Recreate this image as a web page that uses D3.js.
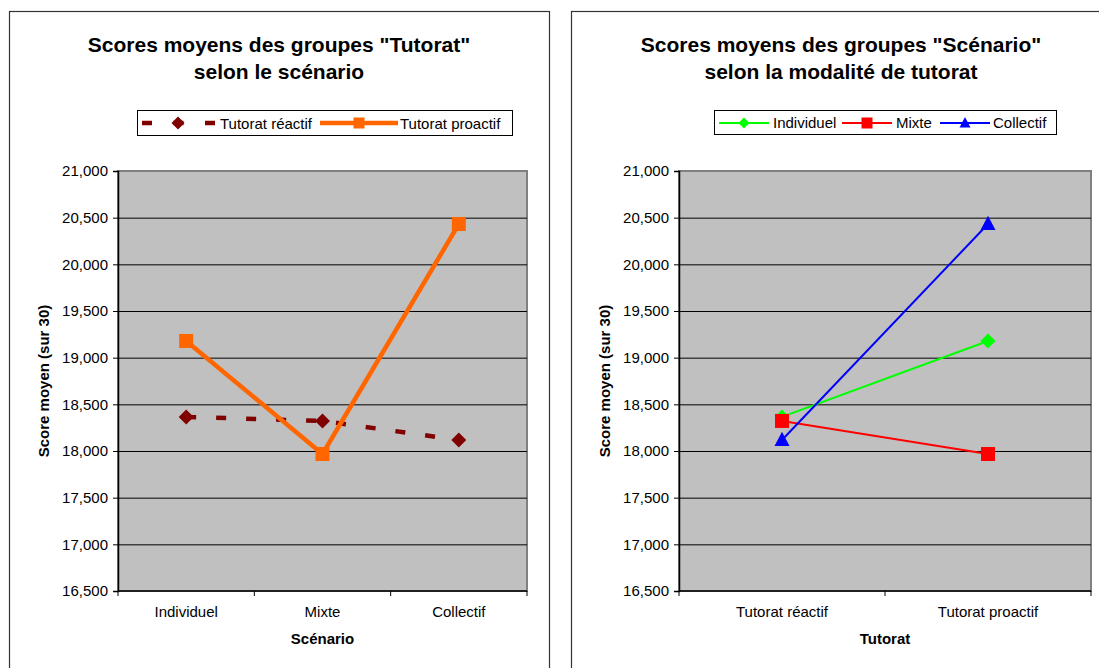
<!DOCTYPE html>
<html>
<head>
<meta charset="utf-8">
<script src="https://cdn.jsdelivr.net/npm/d3@7"></script>
<style>
  body { margin: 0; background: #fff; }
  svg { font-family: "Liberation Sans", Arial, sans-serif; }
</style>
</head>
<body>
<svg id="chart" width="1099" height="668"></svg>
<script>
// data
const scenarios = ["Individuel", "Mixte", "Collectif"];
const tutorats = ["Tutorat réactif", "Tutorat proactif"];
const reactif = [18365, 18322, 18118];
const proactif = [19179, 17968, 20432];
const yTicks = [16500, 17000, 17500, 18000, 18500, 19000, 19500, 20000, 20500, 21000];

const svg = d3.select("#chart");

function tickLabel(v) {
  // excel style "21,000" (decimal comma)
  return (v / 1000).toFixed(3).replace(".", ",");
}

// one panel (frame, title, axes, plot area)
function panel(opts) {
  const g = svg.append("g");

  g.append("rect")
    .attr("x", opts.frame[0] + 0.5).attr("y", opts.frame[1] + 0.5)
    .attr("width", opts.frame[2]).attr("height", opts.frame[3])
    .attr("fill", "#fff").attr("stroke", "#333").attr("stroke-width", 1.2);

  const t = g.append("text")
    .attr("text-anchor", "middle")
    .attr("font-size", 21).attr("font-weight", "bold").attr("fill", "#000");
  opts.title.forEach((line, i) => {
    t.append("tspan").attr("x", opts.titleX).attr("y", 52 + i * 27).text(line);
  });

  const x = d3.scalePoint().domain(opts.cats).range([opts.px0, opts.px1]).padding(0.5);
  const y = d3.scaleLinear().domain([16500, 21000]).range([591, 171]);

  g.append("rect")
    .attr("x", opts.px0).attr("y", 171)
    .attr("width", opts.px1 - opts.px0).attr("height", 420)
    .attr("fill", "#c0c0c0").attr("stroke", "#808080").attr("stroke-width", 2);

  g.append("g").selectAll("line")
    .data(yTicks.slice(1, -1))
    .join("line")
    .attr("x1", opts.px0).attr("x2", opts.px1)
    .attr("y1", d => y(d) + 0.5).attr("y2", d => y(d) + 0.5)
    .attr("stroke", "#000").attr("stroke-width", 1);

  const yAxis = g.append("g")
    .attr("transform", `translate(${opts.px0},0)`)
    .call(d3.axisLeft(y).tickValues(yTicks).tickFormat(tickLabel).tickSizeOuter(0).tickSize(5).tickPadding(5));
  yAxis.attr("font-family", null).attr("font-size", null);
  yAxis.select(".domain").attr("stroke", "#000").attr("stroke-width", 1.5);
  yAxis.selectAll("line").attr("stroke", "#000");
  yAxis.selectAll("text").attr("font-size", 15).attr("fill", "#000");

  const bw = (opts.px1 - opts.px0) / opts.cats.length;
  const xAxis = g.append("g").attr("transform", "translate(0,591)");
  xAxis.append("line")
    .attr("x1", opts.px0).attr("x2", opts.px1)
    .attr("stroke", "#000").attr("stroke-width", 1.5);
  xAxis.selectAll("line.tk")
    .data(d3.range(opts.cats.length + 1))
    .join("line").attr("class", "tk")
    .attr("x1", i => opts.px0 + i * bw).attr("x2", i => opts.px0 + i * bw)
    .attr("y1", 0).attr("y2", 5).attr("stroke", "#000");
  xAxis.selectAll("text")
    .data(opts.cats)
    .join("text")
    .attr("x", d => x(d)).attr("y", 26)
    .attr("text-anchor", "middle").attr("font-size", 15).attr("fill", "#000")
    .text(d => d);

  g.append("text")
    .attr("x", (opts.px0 + opts.px1) / 2).attr("y", 644)
    .attr("text-anchor", "middle").attr("font-size", 15).attr("font-weight", "bold")
    .text(opts.xTitle);
  g.append("text")
    .attr("transform", `translate(${opts.yTitleX},381) rotate(-90)`)
    .attr("text-anchor", "middle").attr("font-size", 15).attr("font-weight", "bold")
    .text("Score moyen (sur 30)");

  return { g, x, y };
}

// markers: r is half width
function marker(sel, type, r, color) {
  let d;
  if (type === "diamond") d = `M0,${-r}L${r},0L0,${r}L${-r},0Z`;
  else if (type === "square") d = `M${-r},${-r}H${r}V${r}H${-r}Z`;
  else d = `M0,${-r * 1.1}L${r},${r * 0.8}H${-r}Z`;
  return sel.append("path").attr("d", d).attr("fill", color);
}

// ---------- left panel ----------
const left = panel({
  frame: [9, 11, 540, 680],
  titleX: 279,
  title: ["Scores moyens des groupes \"Tutorat\"", "selon le scénario"],
  cats: scenarios,
  px0: 118, px1: 527,
  xTitle: "Scénario",
  yTitleX: 49
});

const leftSeries = [
  { name: "Tutorat réactif", values: reactif, color: "#800000", dash: "10,20", mk: "diamond", r: 7.5 },
  { name: "Tutorat proactif", values: proactif, color: "#ff6600", dash: null, mk: "square", r: 7 }
];

leftSeries.forEach(s => {
  const line = d3.line().x((d, i) => left.x(scenarios[i])).y(d => left.y(d));
  left.g.append("path")
    .attr("d", line(s.values))
    .attr("fill", "none").attr("stroke", s.color).attr("stroke-width", 4.5)
    .attr("stroke-dasharray", s.dash);
  s.values.forEach((v, i) => {
    marker(left.g, s.mk, s.r, s.color)
      .attr("transform", `translate(${left.x(scenarios[i])},${left.y(v)})`);
  });
});

// left legend
const lg = left.g.append("g");
lg.append("rect").attr("x", 137.5).attr("y", 110.5).attr("width", 375).attr("height", 25)
  .attr("fill", "#fff").attr("stroke", "#000");
lg.append("line").attr("x1", 142).attr("x2", 215).attr("y1", 123).attr("y2", 123)
  .attr("stroke", "#800000").attr("stroke-width", 4.5).attr("stroke-dasharray", "10,21.5");
marker(lg, "diamond", 6.5, "#800000").attr("transform", "translate(178,123)");
lg.append("text").attr("x", 220).attr("y", 128.5).attr("font-size", 15).text("Tutorat réactif");
lg.append("line").attr("x1", 320).attr("x2", 398).attr("y1", 123).attr("y2", 123)
  .attr("stroke", "#ff6600").attr("stroke-width", 4.5);
marker(lg, "square", 5.5, "#ff6600").attr("transform", "translate(359,123)");
lg.append("text").attr("x", 400).attr("y", 128.5).attr("font-size", 15).text("Tutorat proactif");

// ---------- right panel ----------
const right = panel({
  frame: [571, 11, 540, 680],
  titleX: 841,
  title: ["Scores moyens des groupes \"Scénario\"", "selon la modalité de tutorat"],
  cats: tutorats,
  px0: 679, px1: 1091,
  xTitle: "Tutorat",
  yTitleX: 610
});

const rightSeries = [
  { name: "Individuel", values: [reactif[0], proactif[0]], color: "#00ff00", mk: "diamond", r: 7.5 },
  { name: "Mixte", values: [reactif[1], proactif[1]], color: "#ff0000", mk: "square", r: 7 },
  { name: "Collectif", values: [reactif[2], proactif[2]], color: "#0000ff", mk: "triangle", r: 7.5 }
];

rightSeries.forEach(s => {
  const line = d3.line().x((d, i) => right.x(tutorats[i])).y(d => right.y(d));
  right.g.append("path")
    .attr("d", line(s.values))
    .attr("fill", "none").attr("stroke", s.color).attr("stroke-width", 2);
});
rightSeries.forEach(s => {
  s.values.forEach((v, i) => {
    marker(right.g, s.mk, s.r, s.color)
      .attr("transform", `translate(${right.x(tutorats[i])},${right.y(v)})`);
  });
});

// right legend
const rg = right.g.append("g");
rg.append("rect").attr("x", 714.5).attr("y", 110.5).attr("width", 342).attr("height", 24)
  .attr("fill", "#fff").attr("stroke", "#000");
const legX = [719, 842, 940];
const legT = [773, 896, 993];
rightSeries.forEach((s, i) => {
  rg.append("line").attr("x1", legX[i]).attr("x2", legX[i] + 50).attr("y1", 123).attr("y2", 123)
    .attr("stroke", s.color).attr("stroke-width", 2);
  marker(rg, s.mk, s.mk === "diamond" ? 5.5 : 5.5, s.color).attr("transform", `translate(${legX[i] + 25},123)`);
  rg.append("text").attr("x", legT[i]).attr("y", 128).attr("font-size", 15).text(s.name);
});
</script>
</body>
</html>
